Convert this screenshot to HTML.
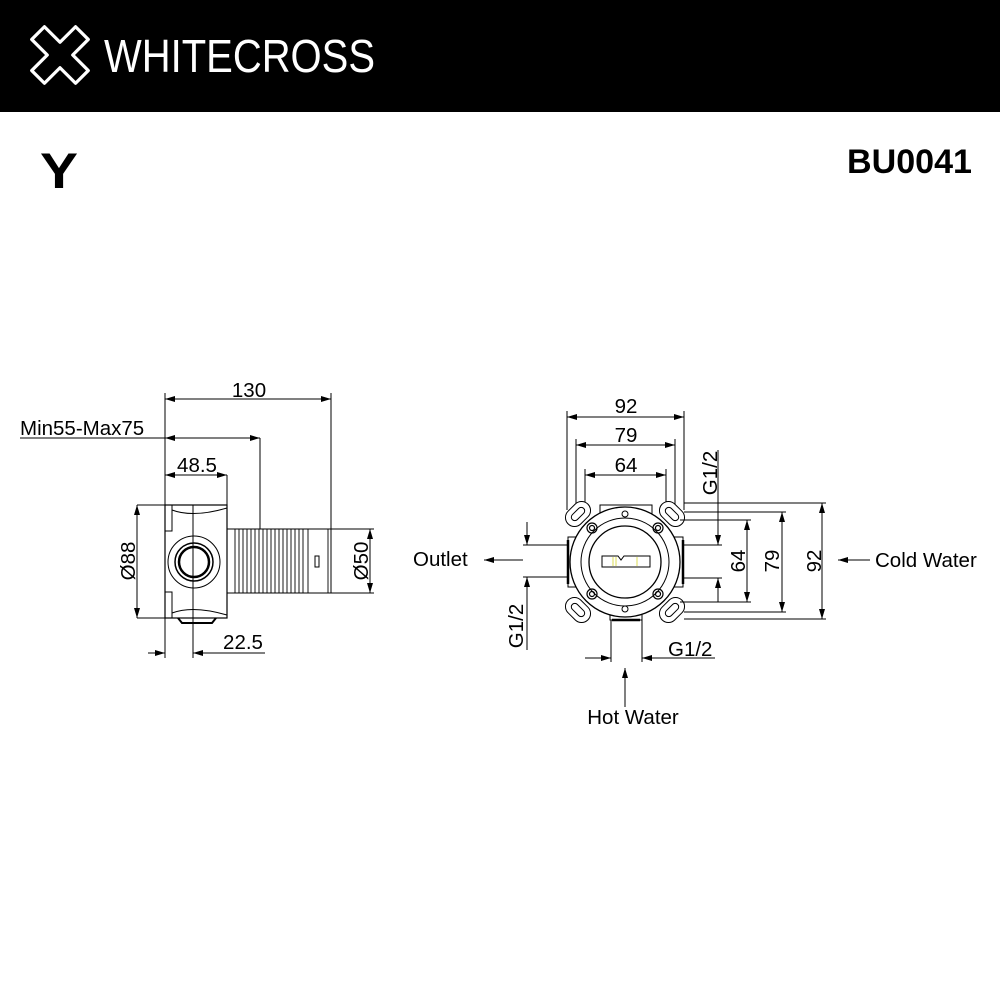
<!DOCTYPE html>
<html><head><meta charset="utf-8"><style>
html,body{margin:0;padding:0;background:#fff;width:1000px;height:1000px;overflow:hidden}
svg{display:block}
text{font-family:"Liberation Sans",sans-serif;fill:#000}
</style></head><body>
<svg width="1000" height="1000" viewBox="0 0 1000 1000" xmlns="http://www.w3.org/2000/svg">
<defs>
<marker id="a" viewBox="0 0 10 6" refX="10" refY="3" markerWidth="10" markerHeight="6" markerUnits="userSpaceOnUse" orient="auto-start-reverse"><path d="M0,0 L10,3 L0,6 z" fill="#000"/></marker>
</defs>
<rect x="0" y="0" width="1000" height="112" fill="#000"/>
<g transform="translate(60,55) rotate(45)" fill="none" stroke="#fff" stroke-width="3.2" stroke-linejoin="round">
<path d="M-9,-31 H9 V-9 H31 V9 H9 V31 H-9 V9 H-31 V-9 H-9 Z"/>
</g>
<text x="104" y="72" font-size="46" style="fill:#fff;font-weight:300" textLength="271" lengthAdjust="spacingAndGlyphs">WHITECROSS</text>
<text x="40" y="188" font-size="50" font-weight="bold" textLength="38" lengthAdjust="spacingAndGlyphs">Y</text>
<text x="847" y="173" font-size="34" font-weight="bold" textLength="125" lengthAdjust="spacingAndGlyphs">BU0041</text>

<g stroke="#000" stroke-width="1" fill="none">
<line x1="165" y1="399" x2="331" y2="399" marker-start="url(#a)" marker-end="url(#a)"/>
<line x1="165" y1="393" x2="165" y2="505"/>
<line x1="331" y1="393" x2="331" y2="529"/>
<line x1="20" y1="438" x2="165" y2="438"/>
<line x1="165" y1="438" x2="260" y2="438" marker-start="url(#a)" marker-end="url(#a)"/>
<line x1="260" y1="438" x2="260" y2="529"/>
<line x1="165" y1="475" x2="227" y2="475" marker-start="url(#a)" marker-end="url(#a)"/>
<line x1="227" y1="475" x2="227" y2="505"/>
<rect x="165" y="505" width="62" height="113" stroke-width="1.2"/>
<rect x="165" y="505" width="7" height="26"/>
<rect x="165" y="592" width="7" height="26"/>
<path d="M172,510 Q193,518 227,508"/>
<path d="M172,613 Q193,605 227,615"/>
<line x1="193" y1="505" x2="193" y2="658"/>
<circle cx="194" cy="562" r="26"/>
<circle cx="194" cy="562" r="19" stroke-width="1.5"/>
<circle cx="194" cy="562" r="15" stroke-width="2.5"/>
<path d="M178,618 L182,623 H212 L216,618" stroke-width="2"/>
<rect x="227" y="529" width="104" height="64"/>
<g stroke-width="0.9">
<line x1="235" y1="529" x2="235" y2="593"/><line x1="239" y1="529" x2="239" y2="593"/>
<line x1="243" y1="529" x2="243" y2="593"/><line x1="247" y1="529" x2="247" y2="593"/>
<line x1="251" y1="529" x2="251" y2="593"/><line x1="255" y1="529" x2="255" y2="593"/>
<line x1="259" y1="529" x2="259" y2="593"/><line x1="263" y1="529" x2="263" y2="593"/>
<line x1="267" y1="529" x2="267" y2="593"/><line x1="271" y1="529" x2="271" y2="593"/>
<line x1="275" y1="529" x2="275" y2="593"/><line x1="279" y1="529" x2="279" y2="593"/>
<line x1="283" y1="529" x2="283" y2="593"/><line x1="287" y1="529" x2="287" y2="593"/>
<line x1="291" y1="529" x2="291" y2="593"/><line x1="295" y1="529" x2="295" y2="593"/>
<line x1="299" y1="529" x2="299" y2="593"/><line x1="303" y1="529" x2="303" y2="593"/>
<line x1="308" y1="529" x2="308" y2="593"/><line x1="328" y1="529" x2="328" y2="593"/>
</g>
<rect x="315" y="556" width="4" height="11"/>
<line x1="331" y1="529" x2="374" y2="529"/>
<line x1="331" y1="593" x2="374" y2="593"/>
<line x1="370" y1="529" x2="370" y2="593" marker-start="url(#a)" marker-end="url(#a)"/>
<line x1="137" y1="505" x2="165" y2="505"/>
<line x1="137" y1="618" x2="165" y2="618"/>
<line x1="137" y1="505" x2="137" y2="618" marker-start="url(#a)" marker-end="url(#a)"/>
<line x1="165" y1="618" x2="165" y2="658"/>
<line x1="148" y1="653" x2="165" y2="653" marker-end="url(#a)"/>
<line x1="265" y1="653" x2="193" y2="653" marker-end="url(#a)"/>

<line x1="567" y1="417" x2="684" y2="417" marker-start="url(#a)" marker-end="url(#a)"/>
<line x1="576" y1="445" x2="675" y2="445" marker-start="url(#a)" marker-end="url(#a)"/>
<line x1="585" y1="475" x2="666" y2="475" marker-start="url(#a)" marker-end="url(#a)"/>
<line x1="567" y1="411" x2="567" y2="510"/>
<line x1="684" y1="411" x2="684" y2="510"/>
<line x1="576" y1="439" x2="576" y2="508"/>
<line x1="675" y1="439" x2="675" y2="508"/>
<line x1="585" y1="469" x2="585" y2="510"/>
<line x1="666" y1="469" x2="666" y2="510"/>
<rect x="600" y="505" width="52" height="10" fill="#fff"/>
<rect x="610" y="605" width="32" height="15" fill="#fff"/>
<line x1="612" y1="620" x2="640" y2="620" stroke-width="2.5"/>
<rect x="568" y="537" width="10" height="50" fill="#fff"/>
<rect x="672" y="537" width="11" height="50" fill="#fff"/>
<line x1="568" y1="540" x2="568" y2="584" stroke-width="2.5"/>
<line x1="683" y1="540" x2="683" y2="584" stroke-width="2.5"/>
<g fill="#fff">
<g transform="translate(578,514) rotate(-45)"><rect x="-14" y="-9" width="28" height="18" rx="9"/><rect x="-8" y="-3.5" width="16" height="7" rx="3.5"/></g>
<g transform="translate(672,514) rotate(45)"><rect x="-14" y="-9" width="28" height="18" rx="9"/><rect x="-8" y="-3.5" width="16" height="7" rx="3.5"/></g>
<g transform="translate(578,610) rotate(45)"><rect x="-14" y="-9" width="28" height="18" rx="9"/><rect x="-8" y="-3.5" width="16" height="7" rx="3.5"/></g>
<g transform="translate(672,610) rotate(-45)"><rect x="-14" y="-9" width="28" height="18" rx="9"/><rect x="-8" y="-3.5" width="16" height="7" rx="3.5"/></g>
<circle cx="625" cy="562" r="55" stroke-width="1.3"/>
</g>
<circle cx="625" cy="562" r="44"/>
<circle cx="625" cy="562" r="36" stroke-width="1.3"/>
<circle cx="625" cy="514" r="3"/>
<circle cx="625" cy="609" r="3"/>
<g stroke-width="1.2">
<circle cx="592" cy="528" r="5"/><circle cx="592" cy="528" r="2.5"/>
<circle cx="658" cy="528" r="5"/><circle cx="658" cy="528" r="2.5"/>
<circle cx="592" cy="594" r="5"/><circle cx="592" cy="594" r="2.5"/>
<circle cx="658" cy="594" r="5"/><circle cx="658" cy="594" r="2.5"/>
</g>
<path d="M602,556 H618 L621,560 L624,556 H650 V567 H602 Z"/>
<line x1="613" y1="557" x2="613" y2="566" stroke="#dd5"/><line x1="616" y1="557" x2="616" y2="566" stroke="#dd5"/>
<line x1="637" y1="557" x2="637" y2="566" stroke="#dd5"/>
<line x1="684" y1="503" x2="826" y2="503"/>
<line x1="684" y1="512" x2="786" y2="512"/>
<line x1="680" y1="520" x2="751" y2="520"/>
<line x1="680" y1="602" x2="751" y2="602"/>
<line x1="684" y1="612" x2="786" y2="612"/>
<line x1="684" y1="619" x2="826" y2="619"/>
<line x1="822" y1="503" x2="822" y2="619" marker-start="url(#a)" marker-end="url(#a)"/>
<line x1="782" y1="512" x2="782" y2="612" marker-start="url(#a)" marker-end="url(#a)"/>
<line x1="747" y1="520" x2="747" y2="602" marker-start="url(#a)" marker-end="url(#a)"/>
<line x1="683" y1="545" x2="722" y2="545"/>
<line x1="683" y1="578" x2="722" y2="578"/>
<line x1="718" y1="450" x2="718" y2="545" marker-end="url(#a)"/>
<line x1="718" y1="602" x2="718" y2="578" marker-end="url(#a)"/>
<line x1="523" y1="545" x2="568" y2="545"/>
<line x1="523" y1="577" x2="568" y2="577"/>
<line x1="527" y1="522" x2="527" y2="545" marker-end="url(#a)"/>
<line x1="527" y1="650" x2="527" y2="577" marker-end="url(#a)"/>
<line x1="523" y1="560" x2="484" y2="560" marker-end="url(#a)"/>
<line x1="870" y1="560" x2="838" y2="560" marker-end="url(#a)"/>
<line x1="611" y1="620" x2="611" y2="662"/>
<line x1="642" y1="620" x2="642" y2="662"/>
<line x1="585" y1="658" x2="611" y2="658" marker-end="url(#a)"/>
<line x1="715" y1="658" x2="642" y2="658" marker-end="url(#a)"/>
<line x1="625" y1="707" x2="625" y2="668" marker-end="url(#a)"/>
</g>
<g font-size="20.5">
<text x="249" y="397" text-anchor="middle">130</text>
<text x="20" y="435">Min55-Max75</text>
<text x="197" y="472" text-anchor="middle">48.5</text>
<text x="243" y="649" text-anchor="middle">22.5</text>
<text transform="translate(135,561) rotate(-90)" text-anchor="middle">Ø88</text>
<text transform="translate(368,561) rotate(-90)" text-anchor="middle">Ø50</text>
<text x="626" y="413" text-anchor="middle">92</text>
<text x="626" y="442" text-anchor="middle">79</text>
<text x="626" y="472" text-anchor="middle">64</text>
<text transform="translate(745,561) rotate(-90)" text-anchor="middle">64</text>
<text transform="translate(779,561) rotate(-90)" text-anchor="middle">79</text>
<text transform="translate(821,561) rotate(-90)" text-anchor="middle">92</text>
<text transform="translate(717,473) rotate(-90)" text-anchor="middle">G1/2</text>
<text transform="translate(523,626) rotate(-90)" text-anchor="middle">G1/2</text>
<text x="668" y="656">G1/2</text>
<text x="413" y="566">Outlet</text>
<text x="875" y="567">Cold Water</text>
<text x="633" y="724" text-anchor="middle">Hot Water</text>
</g>
</svg>
</body></html>
